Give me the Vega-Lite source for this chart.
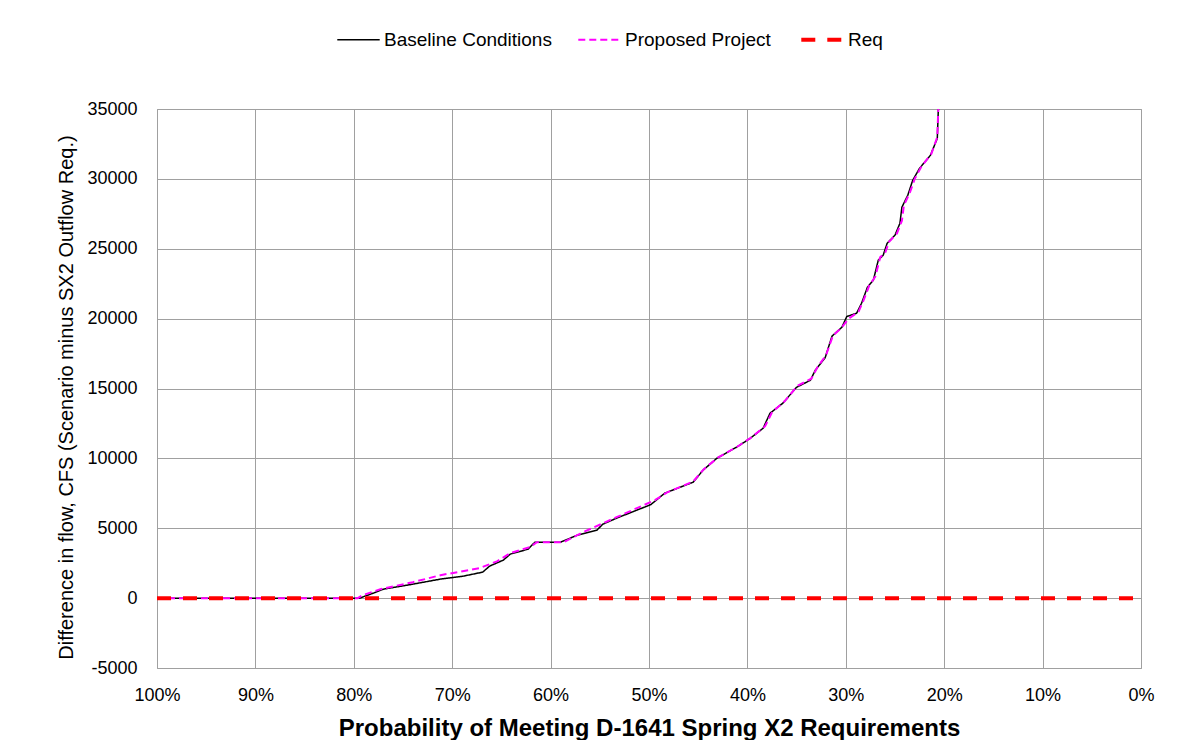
{
  "$schema": "https://vega.github.io/schema/vega-lite/v6.json",
  "width": 984,
  "height": 559,
  "autosize": "none",
  "padding": {"left": 157, "top": 109, "right": 52, "bottom": 72},
  "background": "white",
  "config": {
    "font": "Liberation Sans",
    "view": {"stroke": "#a0a0a0", "strokeWidth": 1},
    "axis": {"gridColor": "#a0a0a0", "gridWidth": 1, "domain": false, "ticks": false, "labelFlush": false, "labelFont": "Liberation Sans", "labelFontSize": 18, "labelColor": "#000", "titleColor": "#000"},
    "legend": {"symbolSize": 1800, "symbolType": "stroke", "labelFontSize": 19, "labelOffset": 16, "columnPadding": 22, "labelLimit": 300}
  },
  "data": {
    "values": [
      {"series": "Baseline Conditions", "p": 100, "v": 0},
      {"series": "Baseline Conditions", "p": 79.4, "v": 0},
      {"series": "Baseline Conditions", "p": 78.0, "v": 360},
      {"series": "Baseline Conditions", "p": 77.0, "v": 640},
      {"series": "Baseline Conditions", "p": 74.0, "v": 1000},
      {"series": "Baseline Conditions", "p": 71.2, "v": 1360},
      {"series": "Baseline Conditions", "p": 68.9, "v": 1570},
      {"series": "Baseline Conditions", "p": 66.9, "v": 1860},
      {"series": "Baseline Conditions", "p": 66.2, "v": 2290},
      {"series": "Baseline Conditions", "p": 64.8, "v": 2720},
      {"series": "Baseline Conditions", "p": 64.1, "v": 3150},
      {"series": "Baseline Conditions", "p": 62.3, "v": 3500},
      {"series": "Baseline Conditions", "p": 61.6, "v": 4000},
      {"series": "Baseline Conditions", "p": 59.0, "v": 4000},
      {"series": "Baseline Conditions", "p": 57.3, "v": 4500},
      {"series": "Baseline Conditions", "p": 55.3, "v": 4860},
      {"series": "Baseline Conditions", "p": 54.7, "v": 5290},
      {"series": "Baseline Conditions", "p": 53.3, "v": 5720},
      {"series": "Baseline Conditions", "p": 50.5, "v": 6500},
      {"series": "Baseline Conditions", "p": 49.8, "v": 6700},
      {"series": "Baseline Conditions", "p": 48.4, "v": 7510},
      {"series": "Baseline Conditions", "p": 45.5, "v": 8300},
      {"series": "Baseline Conditions", "p": 44.5, "v": 9160},
      {"series": "Baseline Conditions", "p": 43.1, "v": 10010},
      {"series": "Baseline Conditions", "p": 41.1, "v": 10800},
      {"series": "Baseline Conditions", "p": 39.7, "v": 11440},
      {"series": "Baseline Conditions", "p": 38.4, "v": 12160},
      {"series": "Baseline Conditions", "p": 37.7, "v": 13230},
      {"series": "Baseline Conditions", "p": 36.4, "v": 13950},
      {"series": "Baseline Conditions", "p": 35.0, "v": 15090},
      {"series": "Baseline Conditions", "p": 33.6, "v": 15590},
      {"series": "Baseline Conditions", "p": 33.1, "v": 16310},
      {"series": "Baseline Conditions", "p": 32.1, "v": 17200},
      {"series": "Baseline Conditions", "p": 31.4, "v": 18750},
      {"series": "Baseline Conditions", "p": 30.4, "v": 19380},
      {"series": "Baseline Conditions", "p": 29.9, "v": 20150},
      {"series": "Baseline Conditions", "p": 28.9, "v": 20390},
      {"series": "Baseline Conditions", "p": 28.4, "v": 21100},
      {"series": "Baseline Conditions", "p": 27.8, "v": 22250},
      {"series": "Baseline Conditions", "p": 27.2, "v": 22750},
      {"series": "Baseline Conditions", "p": 26.7, "v": 24180},
      {"series": "Baseline Conditions", "p": 26.2, "v": 24540},
      {"series": "Baseline Conditions", "p": 25.8, "v": 25390},
      {"series": "Baseline Conditions", "p": 25.0, "v": 25970},
      {"series": "Baseline Conditions", "p": 24.5, "v": 26820},
      {"series": "Baseline Conditions", "p": 24.3, "v": 27970},
      {"series": "Baseline Conditions", "p": 23.7, "v": 28830},
      {"series": "Baseline Conditions", "p": 23.2, "v": 29900},
      {"series": "Baseline Conditions", "p": 22.5, "v": 30760},
      {"series": "Baseline Conditions", "p": 21.4, "v": 31690},
      {"series": "Baseline Conditions", "p": 20.7, "v": 32900},
      {"series": "Baseline Conditions", "p": 20.6, "v": 34900},
      {"series": "Baseline Conditions", "p": 20.5, "v": 35500},
      {"series": "Proposed Project", "p": 100, "v": 0},
      {"series": "Proposed Project", "p": 79.6, "v": 0},
      {"series": "Proposed Project", "p": 79.1, "v": 215},
      {"series": "Proposed Project", "p": 77.3, "v": 640},
      {"series": "Proposed Project", "p": 74.0, "v": 1140},
      {"series": "Proposed Project", "p": 71.2, "v": 1640},
      {"series": "Proposed Project", "p": 67.2, "v": 2150},
      {"series": "Proposed Project", "p": 65.4, "v": 2650},
      {"series": "Proposed Project", "p": 64.1, "v": 3220},
      {"series": "Proposed Project", "p": 62.1, "v": 3650},
      {"series": "Proposed Project", "p": 61.4, "v": 4000},
      {"series": "Proposed Project", "p": 58.7, "v": 4000},
      {"series": "Proposed Project", "p": 56.7, "v": 4720},
      {"series": "Proposed Project", "p": 53.3, "v": 5790},
      {"series": "Proposed Project", "p": 49.4, "v": 7010},
      {"series": "Proposed Project", "p": 48.2, "v": 7550},
      {"series": "Proposed Project", "p": 45.5, "v": 8350},
      {"series": "Proposed Project", "p": 44.4, "v": 9250},
      {"series": "Proposed Project", "p": 43.0, "v": 10050},
      {"series": "Proposed Project", "p": 41.0, "v": 10850},
      {"series": "Proposed Project", "p": 39.6, "v": 11500},
      {"series": "Proposed Project", "p": 38.2, "v": 12300},
      {"series": "Proposed Project", "p": 37.5, "v": 13300},
      {"series": "Proposed Project", "p": 36.2, "v": 14100},
      {"series": "Proposed Project", "p": 34.9, "v": 15200},
      {"series": "Proposed Project", "p": 33.5, "v": 15700},
      {"series": "Proposed Project", "p": 32.9, "v": 16500},
      {"series": "Proposed Project", "p": 32.0, "v": 17400},
      {"series": "Proposed Project", "p": 31.3, "v": 18800},
      {"series": "Proposed Project", "p": 30.5, "v": 19300},
      {"series": "Proposed Project", "p": 29.7, "v": 20000},
      {"series": "Proposed Project", "p": 28.7, "v": 20500},
      {"series": "Proposed Project", "p": 28.2, "v": 21300},
      {"series": "Proposed Project", "p": 27.6, "v": 22400},
      {"series": "Proposed Project", "p": 27.0, "v": 23000},
      {"series": "Proposed Project", "p": 26.5, "v": 24400},
      {"series": "Proposed Project", "p": 26.0, "v": 24700},
      {"series": "Proposed Project", "p": 25.6, "v": 25500},
      {"series": "Proposed Project", "p": 24.8, "v": 26100},
      {"series": "Proposed Project", "p": 24.3, "v": 27000},
      {"series": "Proposed Project", "p": 24.1, "v": 28100},
      {"series": "Proposed Project", "p": 23.5, "v": 29000},
      {"series": "Proposed Project", "p": 23.0, "v": 30000},
      {"series": "Proposed Project", "p": 22.3, "v": 30900},
      {"series": "Proposed Project", "p": 21.3, "v": 31800},
      {"series": "Proposed Project", "p": 20.7, "v": 33000},
      {"series": "Proposed Project", "p": 20.6, "v": 35000},
      {"series": "Proposed Project", "p": 20.5, "v": 35500},
      {"series": "Req", "p": 100, "v": 0},
      {"series": "Req", "p": 0, "v": 0}
    ]
  },
  "encoding": {
    "x": {
      "field": "p", "type": "quantitative",
      "scale": {"domain": [100, 0], "nice": false},
      "axis": {"values": [0, 10, 20, 30, 40, 50, 60, 70, 80, 90, 100], "labelExpr": "datum.value + '%'", "labelPadding": 18, "title": "Probability of Meeting D-1641 Spring X2 Requirements", "titleFontSize": 24, "titleFontWeight": "bold", "titlePadding": 12}
    },
    "y": {
      "field": "v", "type": "quantitative",
      "scale": {"domain": [-5000, 35000], "nice": false},
      "axis": {"values": [-5000, 0, 5000, 10000, 15000, 20000, 25000, 30000, 35000], "labelExpr": "'' + datum.value", "labelPadding": 20, "title": "Difference in flow, CFS (Scenario minus SX2 Outflow Req.)", "titleFontSize": 20, "titleFontWeight": "normal", "titlePadding": 10, "titleY": 288}
    },
    "color": {
      "field": "series", "type": "nominal",
      "scale": {"domain": ["Baseline Conditions", "Proposed Project", "Req"], "range": ["#000000", "#ff00ff", "#ff0000"]},
      "legend": {"title": null, "orient": "none", "legendX": 192, "legendY": -79, "direction": "horizontal",
        "encode": {"symbols": {"update": {"strokeWidth": {"signal": "datum.value === 'Req' ? 4 : (datum.value === 'Proposed Project' ? 2 : 1.5)"}}}}}
    },
    "strokeDash": {
      "field": "series", "type": "nominal",
      "scale": {"domain": ["Baseline Conditions", "Proposed Project", "Req"], "range": [[1, 0], [7, 4], [14, 12]]},
      "legend": null
    }
  },
  "layer": [
    {"transform": [{"filter": "datum.series === 'Baseline Conditions'"}], "mark": {"type": "line", "clip": true, "strokeWidth": 1.5}},
    {"transform": [{"filter": "datum.series === 'Proposed Project'"}], "mark": {"type": "line", "clip": true, "strokeWidth": 2}},
    {"transform": [{"filter": "datum.series === 'Req'"}], "mark": {"type": "line", "clip": true, "strokeWidth": 4}}
  ]
}
